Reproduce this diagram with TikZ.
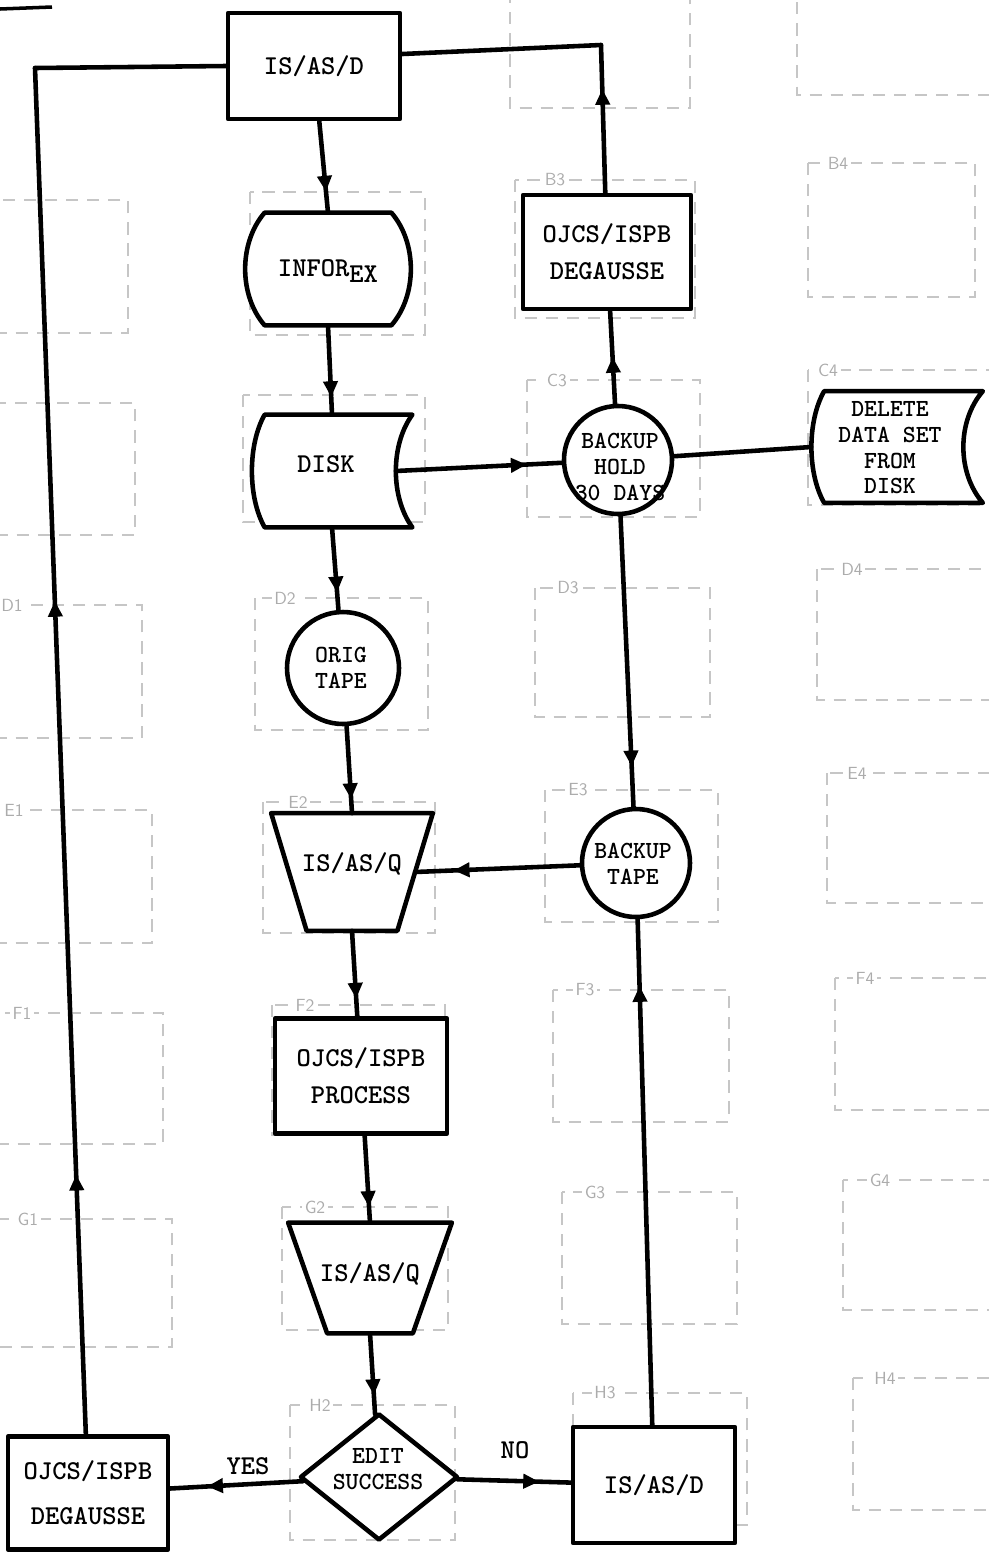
\documentclass[tikz,border=0pt]{standalone}
\usetikzlibrary{shapes.geometric,arrows.meta,decorations.markings,calc}
\newcommand{\pxu}{0.02cm}
\newcommand{\gbox}[4]{\draw[gridln] (#1,#2) rectangle (#3,#4);}
\newcommand{\glabel}[3]{\node[gridlbl] (lbl#1) at (#2,#3) {#1};}
\newcommand{\storedshape}[2]{\draw[shp] ($(#1.north west)+(13,0)$) -- (#1.north east)
  .. controls ($(#1.north east)+(-#2,30)$) and ($(#1.south east)+(-#2,-30)$) .. (#1.south east)
  -- ($(#1.south west)+(13,0)$)
  .. controls ($(#1.south west)+(-4,-30)$) and ($(#1.north west)+(-4,30)$) .. cycle;}
\newcommand{\barrelshape}[1]{\draw[shp] ($(#1.north west)+(14,0)$) -- ($(#1.north east)+(-14,0)$)
  .. controls ($(#1.north east)+(12,30)$) and ($(#1.south east)+(12,-30)$) .. ($(#1.south east)+(-14,0)$)
  -- ($(#1.south west)+(14,0)$)
  .. controls ($(#1.south west)+(-12,-30)$) and ($(#1.north west)+(-12,30)$) .. cycle;}
\newcommand{\trapshape}[2]{\draw[shp] (#1.north west) -- (#1.north east)
  -- ($(#1.south east)+(-#2,0)$) -- ($(#1.south west)+(#2,0)$) -- cycle;}
\begin{document}
\begin{tikzpicture}[x=0.02cm,y=-0.02cm,
  shp/.style={draw=black,line width=2.6pt,fill=white,line join=round},
  conn/.style={line width=2.6pt,line cap=round},
  tipat/.style={postaction={decorate},decoration={markings,mark=at position #1 with {\arrow{Triangle[length=9pt,width=8pt]}}}},
  gridln/.style={draw=gray!45,line width=0.7pt,dash pattern=on 7pt off 5pt},
  gridlbl/.style={font=\fontsize{10}{10}\selectfont\sffamily,text=gray!65,fill=white,inner sep=1.5pt},
  txt/.style={font=\fontsize{15.5}{21}\selectfont\ttfamily\bfseries,align=center,inner sep=0pt},
  ctxt/.style={font=\fontsize{14}{14.6}\selectfont\ttfamily\bfseries,align=center,inner sep=0pt},
  anchorbox/.style={inner sep=0pt,draw=none}]
\useasboundingbox (0,0) rectangle (989,1553);
\clip (0,0) rectangle (989,1553);
\fill[white] (0,0) rectangle (989,1553);

% ---- faint grid of the form ----
\gbox{-20}{200}{128}{333}
\gbox{-20}{403}{135}{535}
\gbox{-20}{605}{142}{738}  \glabel{D1}{12}{605}
\gbox{-20}{810}{152}{943}  \glabel{E1}{14}{810}
\gbox{-20}{1013}{163}{1144} \glabel{F1}{22}{1013}
\gbox{-20}{1219}{172}{1347} \glabel{G1}{28}{1219}
\gbox{250}{192}{425}{335}
\gbox{243}{395}{425}{522}
\gbox{255}{598}{428}{730}  \glabel{D2}{285}{598}
\gbox{263}{802}{435}{933}  \glabel{E2}{298}{802}
\gbox{272}{1005}{445}{1135} \glabel{F2}{305}{1005}
\gbox{282}{1207}{448}{1330} \glabel{G2}{315}{1207}
\gbox{290}{1405}{455}{1540} \glabel{H2}{320}{1405}
\gbox{510}{-30}{690}{108}
\gbox{515}{180}{695}{318}  \glabel{B3}{555}{180}
\gbox{527}{380}{700}{517}  \glabel{C3}{557}{380}
\gbox{535}{588}{710}{717}  \glabel{D3}{568}{588}
\gbox{545}{790}{718}{922}  \glabel{E3}{578}{790}
\gbox{553}{990}{729}{1122} \glabel{F3}{585}{990}
\gbox{562}{1192}{737}{1324} \glabel{G3}{595}{1192}
\gbox{573}{1393}{747}{1525} \glabel{H3}{605}{1393}
\gbox{797}{-40}{1000}{95}
\gbox{808}{163}{975}{297}  \glabel{B4}{838}{163}
\gbox{808}{370}{1000}{505} \glabel{C4}{828}{370}
\gbox{817}{569}{1000}{700} \glabel{D4}{852}{569}
\gbox{827}{773}{1000}{903} \glabel{E4}{857}{773}
\gbox{835}{978}{1000}{1110} \glabel{F4}{865}{978}
\gbox{843}{1180}{1000}{1310} \glabel{G4}{880}{1180}
\gbox{853}{1378}{1000}{1510} \glabel{H4}{885}{1378}
\draw[line width=2pt] (0,9) -- (52,7);

% ---- nodes ----
\node[shp,txt,minimum width=172*\pxu,minimum height=106*\pxu] (isd1) at (314,66) {IS/AS/D};

\node[anchorbox,minimum width=154*\pxu,minimum height=112*\pxu] (inforex) at (328,269) {};
\barrelshape{inforex}
\node[txt] (inforextxt) at (328,271) {INFOR\raisebox{-3pt}{EX}};

\node[anchorbox,minimum width=160*\pxu,minimum height=112*\pxu] (disk) at (332,471) {};
\storedshape{disk}{22}
\node[txt] (disktxt) at (326,464) {DISK};

\node[shp,circle,minimum size=112*\pxu,inner sep=0pt] (orig) at (343,668) {};
\node[ctxt] (origtxt) at (341,668) {ORIG\\TAPE};

\node[anchorbox,minimum width=161*\pxu,minimum height=117*\pxu] (q1) at (352,872) {};
\trapshape{q1}{35.5}
\node[txt] (q1txt) at (352,864) {IS/AS/Q};

\node[shp,txt,minimum width=172*\pxu,minimum height=115*\pxu] (proc) at (361,1076) {OJCS/ISPB\\PROCESS};

\node[anchorbox,minimum width=163*\pxu,minimum height=110*\pxu] (q2) at (370,1278) {};
\trapshape{q2}{39}
\node[txt] (q2txt) at (370,1274) {IS/AS/Q};

\node[shp,diamond,minimum width=158*\pxu,minimum height=127*\pxu,inner sep=0pt] (edit) at (379,1477) {};
\node[ctxt] (edittxt) at (378,1469) {EDIT\\SUCCESS};

\node[shp,txt,font=\fontsize{15.5}{25.5}\selectfont\ttfamily\bfseries,minimum width=160*\pxu,minimum height=113*\pxu] (deg2) at (88,1493) {OJCS/ISPB\\DEGAUSSE};

\node[shp,txt,minimum width=162*\pxu,minimum height=116*\pxu] (isd2) at (654,1485) {IS/AS/D};

\node[shp,circle,minimum size=108*\pxu,inner sep=0pt] (btape) at (636,863) {};
\node[ctxt] (btapetxt) at (633,864) {BACKUP\\TAPE};

\node[shp,circle,minimum size=108*\pxu,inner sep=0pt] (hold) at (618,460) {};
\node[ctxt] (holdtxt) at (620,467) {BACKUP\\HOLD\\30 DAYS};

\node[anchorbox,minimum width=171*\pxu,minimum height=111*\pxu] (del) at (897,447) {};
\storedshape{del}{26}
\node[ctxt] (deltxt) at (890,448) {DELETE\\DATA SET\\FROM\\DISK};

\node[shp,txt,minimum width=168*\pxu,minimum height=114*\pxu] (deg1) at (607,252) {OJCS/ISPB\\DEGAUSSE};

\node[txt] (yes) at (248,1466) {YES};
\node[txt] (no) at (515,1450) {NO};

% ---- connectors ----
\coordinate (cL) at (35,68);
\coordinate (cT) at (601,45);
\coordinate (isd1e) at ($(isd1.east)+(0,-12)$);
\coordinate (diskr) at ($(disk.east)+(-16.5,0)$);
\coordinate (q1r) at ($(q1.east)+(-17.75,0)$);

\draw[conn,tipat=-12pt] (isd1) -- (inforex.north);
\draw[conn,tipat=-10pt] (inforex.south) -- (disk.north);
\draw[conn,tipat=-10pt] (disk.south) -- (orig);
\draw[conn,tipat=-8pt] (orig) -- (q1.north);
\draw[conn,tipat=-10pt] (q1.south) -- (proc);
\draw[conn,tipat=-9pt] (proc) -- (q2.north);
\draw[conn,tipat=-11pt] (q2.south) -- (edit);
\draw[conn,tipat=-21pt] (edit) -- (deg2);
\draw[conn,tipat=-18pt] (edit) -- (isd2);
\draw[conn,tipat=-38pt] (isd2) -- (btape);
\draw[conn,tipat=-22pt] (btape) -- (q1r);
\draw[conn,tipat=-20pt] (diskr) -- (hold);
\draw[conn] (hold) -- (del.west);
\draw[conn,tipat=-23pt] (hold) -- (btape);
\draw[conn,tipat=-26pt] (hold) -- (deg1);
\draw[conn,tipat=-25pt] (deg1) -- (cT);
\draw[conn] (cT) -- (isd1e);
\draw[conn,postaction={decorate},decoration={markings,
   mark=at position 0.19 with {\arrow{Triangle[length=9pt,width=8pt]}},
   mark=at position 0.61 with {\arrow{Triangle[length=9pt,width=8pt]}}}] (deg2) -- (cL);
\draw[conn] (cL) -- (isd1.west);
\end{tikzpicture}
\end{document}
